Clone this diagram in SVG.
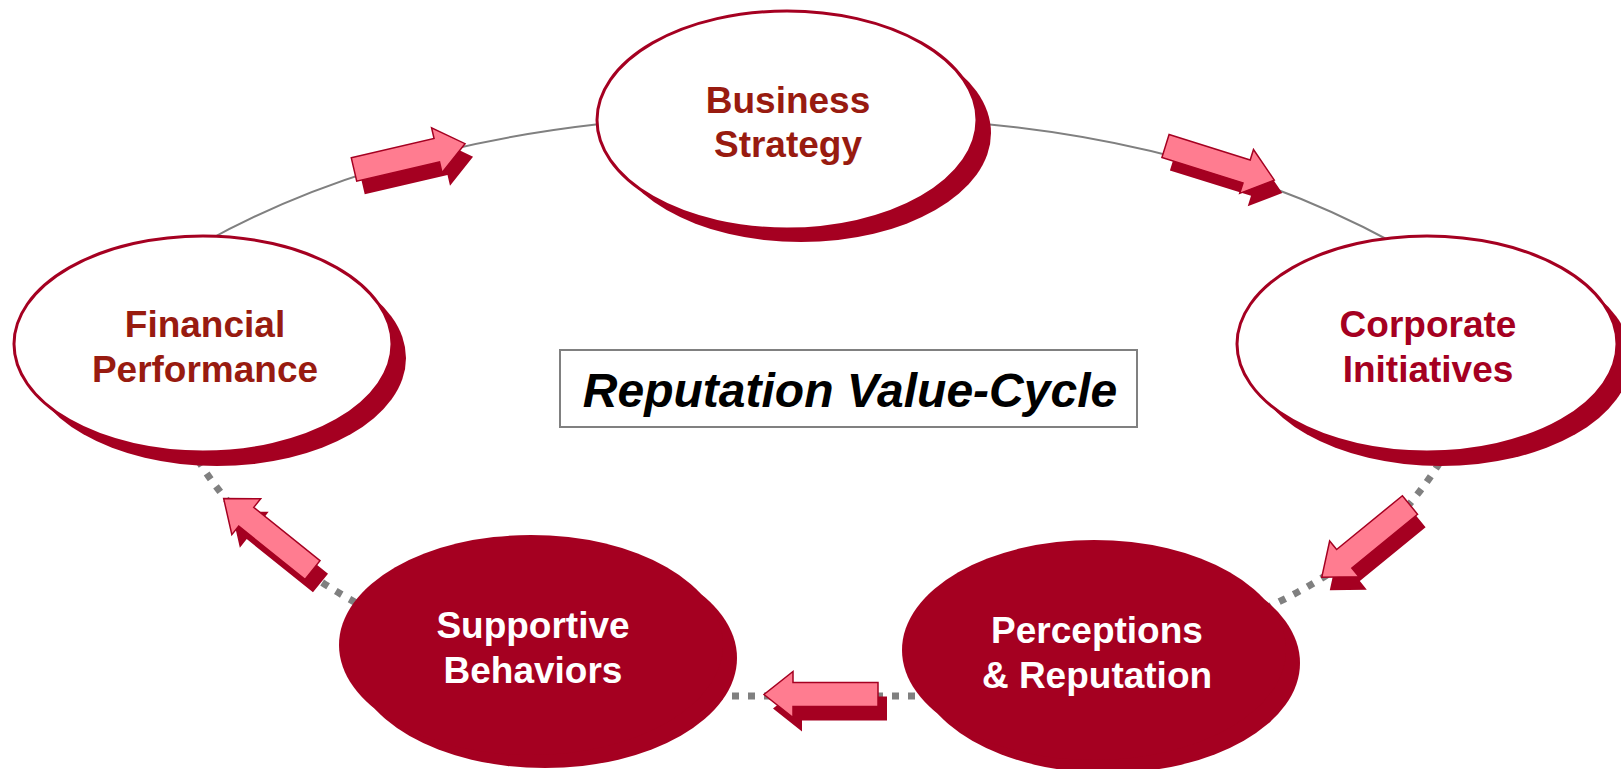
<svg xmlns="http://www.w3.org/2000/svg" xmlns:xlink="http://www.w3.org/1999/xlink" width="1621" height="769" viewBox="0 0 1621 769">
  <style>
    .ring { fill: none; stroke: #808080; stroke-width: 2; }
    .ring-dot { fill: none; stroke: #808080; stroke-width: 7; stroke-dasharray: 7 9; }
    .shadow { fill: #A50021; }
    .face { fill: #FFFFFF; stroke: #A50021; stroke-width: 3; }
    .solid { fill: #A50021; }
    .lbl { font-family: "Liberation Sans", Arial, sans-serif; font-weight: bold; font-size: 37px; text-anchor: middle; }
    .brown { fill: #981B10; }
    .crimson { fill: #A50021; }
    .white { fill: #FFFFFF; }
    .arrow-shadow { fill: #A50021; }
    .arrow-face { fill: #FF7C90; stroke: #A50021; stroke-width: 1.5; stroke-linejoin: miter; }
    .title { font-family: "Liberation Sans", Arial, sans-serif; font-weight: bold; font-style: italic; font-size: 48px; text-anchor: middle; fill: #000000; }
  </style>
  <defs>
    <!-- block arrow pointing along +x, tail centred on the origin -->
    <polygon id="blk" points="0,-12 85,-12 85,-23 114,0 85,23 85,12 0,12"/>
  </defs>

  <rect width="1621" height="769" fill="#FFFFFF"/>

  <g id="connectors">
    <!-- upper ring: thin solid -->
    <path class="ring" d="M205,242 Q370,150 600,124"/>
    <path class="ring" d="M985,124 Q1215,146 1392,242"/>
    <!-- lower ring: heavy dotted -->
    <path class="ring-dot" d="M198,460 Q250,545 360,605"/>
    <path class="ring-dot" d="M700,696 L930,696"/>
    <path class="ring-dot" d="M1250,615 Q1380,560 1440,462"/>

    <!-- flow arrows: dark drop shadow, then pink face -->
    <g id="arrow-fin-bus">
      <use xlink:href="#blk" class="arrow-shadow" transform="translate(362,182.5) rotate(-13.1)"/>
      <use xlink:href="#blk" class="arrow-face" transform="translate(354,169.5) rotate(-13.1)"/>
    </g>
    <g id="arrow-bus-corp">
      <use xlink:href="#blk" class="arrow-shadow" transform="translate(1173.5,159) rotate(17.4)"/>
      <use xlink:href="#blk" class="arrow-face" transform="translate(1165.5,146) rotate(17.4)"/>
    </g>
    <g id="arrow-corp-perc">
      <use xlink:href="#blk" class="arrow-shadow" transform="translate(1418,518) rotate(140.7)"/>
      <use xlink:href="#blk" class="arrow-face" transform="translate(1410,505) rotate(140.7)"/>
    </g>
    <g id="arrow-perc-supp">
      <use xlink:href="#blk" class="arrow-shadow" transform="translate(887,708.5) rotate(180)"/>
      <use xlink:href="#blk" class="arrow-face" transform="translate(878,694.5) rotate(180)"/>
    </g>
    <g id="arrow-supp-fin">
      <use xlink:href="#blk" class="arrow-shadow" transform="translate(320.5,583) rotate(-141.2)"/>
      <use xlink:href="#blk" class="arrow-face" transform="translate(312.5,570) rotate(-141.2)"/>
    </g>
  </g>

  <g id="node-business-strategy">
    <ellipse class="shadow" cx="801" cy="133" rx="190" ry="109"/>
    <ellipse class="face" cx="787" cy="120" rx="190" ry="109"/>
    <text class="lbl brown" x="788" y="113">Business</text>
    <text class="lbl brown" x="788" y="157">Strategy</text>
  </g>

  <g id="node-financial-performance">
    <ellipse class="shadow" cx="217" cy="358" rx="189" ry="108"/>
    <ellipse class="face" cx="203" cy="344" rx="189" ry="108"/>
    <text class="lbl brown" x="205" y="337">Financial</text>
    <text class="lbl brown" x="205" y="382">Performance</text>
  </g>

  <g id="node-corporate-initiatives">
    <ellipse class="shadow" cx="1441" cy="358" rx="190" ry="108"/>
    <ellipse class="face" cx="1427" cy="344" rx="190" ry="108"/>
    <text class="lbl crimson" x="1428" y="337">Corporate</text>
    <text class="lbl crimson" x="1428" y="382">Initiatives</text>
  </g>

  <g id="node-supportive-behaviors">
    <ellipse class="solid" cx="545" cy="658" rx="192" ry="110"/>
    <ellipse class="solid" cx="531" cy="645" rx="192" ry="110"/>
    <text class="lbl white" x="533" y="638">Supportive</text>
    <text class="lbl white" x="533" y="683">Behaviors</text>
  </g>

  <g id="node-perceptions-reputation">
    <ellipse class="solid" cx="1108" cy="663" rx="192" ry="110"/>
    <ellipse class="solid" cx="1094" cy="650" rx="192" ry="110"/>
    <text class="lbl white" x="1097" y="643">Perceptions</text>
    <text class="lbl white" x="1097" y="688">&amp; Reputation</text>
  </g>

  <g id="title">
    <rect x="560" y="350" width="577" height="77" fill="#FFFFFF" stroke="#808080" stroke-width="2"/>
    <text class="title" x="850" y="407">Reputation Value-Cycle</text>
  </g>
</svg>
